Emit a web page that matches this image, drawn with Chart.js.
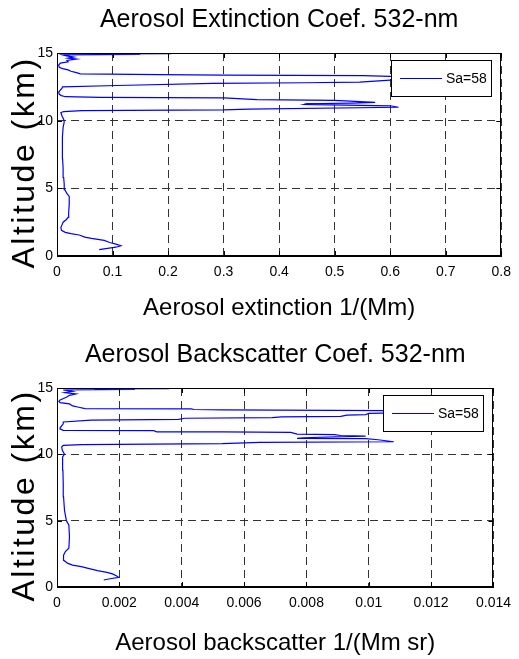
<!DOCTYPE html>
<html lang="en">
<head>
<meta charset="UTF-8">
<title>Aerosol profiles 532-nm</title>
<script src="https://cdn.jsdelivr.net/npm/chart.js@4.4.0/dist/chart.umd.min.js"></script>
<style>
    * { margin: 0; padding: 0; box-sizing: border-box; }
    body { background: #fff; width: 519px; height: 659px; overflow: hidden; }
    canvas { display: block; }
</style>
</head>
<body>
<canvas id="extChart" width="519" height="330"></canvas>
<canvas id="bscChart" width="519" height="329"></canvas>
<script>
// extinction profile, altitude in km, extinction in 1/Mm
const extAltitude = [0.47, 0.55, 0.65, 0.76, 0.88, 1.0, 1.15, 1.3, 1.4, 1.55, 1.65, 1.75, 1.9, 2.1, 2.3, 2.5, 2.7, 2.85,
    3.2, 3.8, 4.4, 4.6, 4.9, 5.3, 5.8, 6.5, 7.2, 8.0, 8.8, 9.5, 9.9, 10.1, 10.35, 10.6, 10.67, 10.74, 10.8, 10.86,
    10.99, 11.1, 11.2, 11.25, 11.3, 11.35, 11.42, 11.5, 11.55, 11.68, 11.72, 11.77, 11.85, 11.95, 12.1, 12.25, 12.4,
    12.5, 12.6, 12.76, 12.8, 12.85, 13.0, 13.12, 13.27, 13.33, 13.36, 13.4, 13.46, 13.55, 13.65, 13.75, 13.85, 13.95,
    14.1, 14.25, 14.35, 14.45, 14.55, 14.62, 14.7, 14.8, 14.86, 14.9, 14.93, 14.96, 15.0];
const extValues = [0.076, 0.088, 0.106, 0.115, 0.106, 0.095, 0.085, 0.062, 0.05, 0.04, 0.025, 0.015, 0.008, 0.007,
    0.009, 0.011, 0.017, 0.02, 0.021, 0.022, 0.022, 0.018, 0.014, 0.013, 0.012, 0.011, 0.01, 0.0095, 0.01, 0.011,
    0.013, 0.012, 0.009, 0.007, 0.012, 0.045, 0.30, 0.345, 0.615, 0.60, 0.445, 0.45, 0.53, 0.573, 0.537, 0.50, 0.36,
    0.30, 0.078, 0.015, 0.008, 0.004, 0.003, 0.006, 0.009, 0.01, 0.108, 0.28, 0.448, 0.545, 0.60, 0.66, 0.60, 0.552,
    0.30, 0.185, 0.042, 0.035, 0.025, 0.02, 0.01, 0.004, 0.003, 0.006, 0.02, 0.018, 0.035, 0.02, 0.03, 0.015, 0.01,
    0.15, 0.08, 0.206, 0.12];

// backscatter profile, altitude in km, backscatter in 1/(Mm sr)
const bscAltitude = [0.53, 0.62, 0.73, 0.85, 0.99, 1.1, 1.23, 1.4, 1.53, 1.65, 1.78, 2.0, 2.17, 2.4, 2.67, 2.92, 3.8,
    4.68, 5.0, 5.8, 6.8, 7.8, 8.8, 9.8, 10.0, 10.3, 10.55, 10.68, 10.73, 10.81, 10.9, 10.95, 11.1, 11.19, 11.21, 11.25,
    11.33, 11.38, 11.42, 11.49, 11.52, 11.66, 11.69, 11.7, 11.78, 11.81, 11.9, 12.0, 12.15, 12.3, 12.44, 12.58, 12.64,
    12.72, 12.76, 12.83, 12.86, 12.96, 13.0, 13.08, 13.12, 13.2, 13.3, 13.35, 13.38, 13.42, 13.45, 13.55, 13.65, 13.8,
    13.9, 14.0, 14.1, 14.3, 14.45, 14.55, 14.65, 14.75, 14.85, 14.9, 14.93, 14.96, 15.0];
const bscValues = [0.0015, 0.0017, 0.00198, 0.0019, 0.00178, 0.0016, 0.0013, 0.001, 0.00078, 0.0005, 0.00035, 0.00022,
    0.0002, 0.00022, 0.00027, 0.00038, 0.0004, 0.00038, 0.0003, 0.00024, 0.00021, 0.0002, 0.00019, 0.00018, 0.00024,
    0.00017, 0.00015, 0.0002, 0.00078, 0.0053, 0.0065, 0.0108, 0.0103, 0.0099, 0.0077, 0.0079, 0.0092, 0.0099, 0.0091,
    0.0089, 0.0077, 0.0075, 0.0053, 0.0032, 0.0031, 0.0002, 0.00012, 0.0001, 0.00015, 0.0002, 0.0002, 0.0011, 0.0039,
    0.0041, 0.0069, 0.0072, 0.0091, 0.0093, 0.0099, 0.0100, 0.0108, 0.0114, 0.0106, 0.0053, 0.0044, 0.0043, 0.0009,
    0.0007, 0.0005, 0.0004, 0.0001, 0.00006, 0.0001, 0.0003, 0.0004, 0.0006, 0.00025, 0.0005, 0.0002, 0.0025, 0.0012,
    0.0036, 0.0022];

const extTickLabels = ['0', '0.1', '0.2', '0.3', '0.4', '0.5', '0.6', '0.7', '0.8'];
const bscTickLabels = ['0', '0.002', '0.004', '0.006', '0.008', '0.01', '0.012', '0.014'];
const altTickLabels = ['0', '5', '10', '15'];
const seriesLabel = 'Sa=58';

const FONT = "'Liberation Sans', Arial, sans-serif";

Chart.defaults.color = '#000';
Chart.defaults.font.family = FONT;

// box, inner tick marks, boxed legend and spaced y title (matlab look)
const matlabFrame = {
    id: 'matlabFrame',
    afterDraw(chart, args, opts) {
        const { ctx, chartArea: a, scales } = chart;
        ctx.save();
        ctx.strokeStyle = '#000';
        ctx.lineWidth = 1;
        ctx.setLineDash([]);

        ctx.beginPath();
        scales.x.ticks.forEach(t => {
            const px = Math.round(scales.x.getPixelForValue(t.value)) + 0.5;
            ctx.moveTo(px, a.bottom); ctx.lineTo(px, a.bottom - 5);
            ctx.moveTo(px, a.top); ctx.lineTo(px, a.top + 5);
        });
        scales.y.ticks.forEach(t => {
            const py = Math.round(scales.y.getPixelForValue(t.value)) + 0.5;
            ctx.moveTo(a.left, py); ctx.lineTo(a.left + 5, py);
            ctx.moveTo(a.right, py); ctx.lineTo(a.right - 5, py);
        });
        ctx.stroke();
        ctx.strokeRect(Math.round(a.left) + 0.5, Math.round(a.top) + 0.5,
            Math.round(a.right - a.left) - 1, Math.round(a.bottom - a.top) - 1);

        // legend
        const w = 100, h = 36;
        const lx = Math.round(a.right) - 10 - w, ly = Math.round(a.top) + 7;
        ctx.fillStyle = '#fff';
        ctx.fillRect(lx, ly, w, h);
        ctx.strokeRect(lx + 0.5, ly + 0.5, w, h);
        const ds = chart.data.datasets[0];
        ctx.strokeStyle = ds.borderColor;
        ctx.beginPath();
        ctx.moveTo(lx + 9, ly + h / 2 + 0.5);
        ctx.lineTo(lx + 51, ly + h / 2 + 0.5);
        ctx.stroke();
        ctx.fillStyle = '#000';
        ctx.font = '14px ' + FONT;
        ctx.textBaseline = 'middle';
        ctx.textAlign = 'left';
        ctx.fillText(ds.label, lx + 55, ly + h / 2 + 1);

        // y axis title
        ctx.translate(opts.titleX, (a.top + a.bottom) / 2 + opts.titleShift);
        ctx.rotate(-Math.PI / 2);
        ctx.font = '32px ' + FONT;
        ctx.letterSpacing = '2.5px';
        ctx.textAlign = 'center';
        ctx.fillText(opts.yTitle, 0, 0);
        ctx.restore();
    }
};

function profileChart(canvasId, cfg) {
    const points = cfg.values.map((v, i) => ({ x: v, y: cfg.altitude[i] }));
    return new Chart(document.getElementById(canvasId), {
        type: 'scatter',
        data: {
            datasets: [{
                label: seriesLabel,
                data: points,
                showLine: true,
                borderColor: '#0000ff',
                borderWidth: 1.2,
                pointRadius: 0,
                tension: 0
            }]
        },
        options: {
            responsive: false,
            animation: false,
            devicePixelRatio: 1,
            layout: { padding: { left: 0, right: 16, top: 0, bottom: 0 } },
            plugins: {
                legend: { display: false },
                tooltip: { enabled: false },
                title: {
                    display: true,
                    fullSize: false,
                    text: cfg.title,
                    font: { size: 25, weight: 'normal', lineHeight: 1.2 },
                    padding: cfg.titlePadding
                },
                matlabFrame: { yTitle: 'Altitude (km)', titleX: 25, titleShift: 8 }
            },
            scales: {
                x: {
                    type: 'linear',
                    min: 0,
                    max: cfg.max,
                    afterFit: s => { s.height = cfg.xAxisHeight; },
                    ticks: {
                        stepSize: cfg.step,
                        padding: 8,
                        maxRotation: 0,
                        autoSkip: false,
                        font: { size: 14 },
                        callback: v => cfg.tickLabels[Math.round(v / cfg.step)]
                    },
                    grid: { color: '#333', lineWidth: 1, drawTicks: false },
                    border: { display: true, color: '#000', width: 1, dash: [8, 5] },
                    title: {
                        display: true,
                        text: cfg.xTitle,
                        font: { size: 24, lineHeight: 1.2 },
                        padding: { top: 0, bottom: cfg.xTitlePad }
                    }
                },
                y: {
                    type: 'linear',
                    min: 0,
                    max: 15,
                    afterFit: s => { s.width = 57; },
                    ticks: {
                        stepSize: 5,
                        padding: 4,
                        font: { size: 14 },
                        callback: v => altTickLabels[Math.round(v / 5)]
                    },
                    grid: { color: '#333', lineWidth: 1, drawTicks: false },
                    border: { display: true, color: '#000', width: 1, dash: [8, 5] }
                }
            }
        },
        plugins: [matlabFrame]
    });
}

profileChart('extChart', {
    altitude: extAltitude,
    values: extValues,
    max: 0.8,
    step: 0.1,
    tickLabels: extTickLabels,
    title: 'Aerosol Extinction Coef. 532-nm',
    titlePadding: { top: 5, bottom: 18 },
    xTitle: 'Aerosol extinction 1/(Mm)',
    xAxisHeight: 74,
    xTitlePad: 7
});

profileChart('bscChart', {
    altitude: bscAltitude,
    values: bscValues,
    max: 0.014,
    step: 0.002,
    tickLabels: bscTickLabels,
    title: 'Aerosol Backscatter Coef. 532-nm',
    titlePadding: { top: 10, bottom: 18 },
    xTitle: 'Aerosol backscatter 1/(Mm sr)',
    xAxisHeight: 72,
    xTitlePad: 1
});
</script>
</body>
</html>
